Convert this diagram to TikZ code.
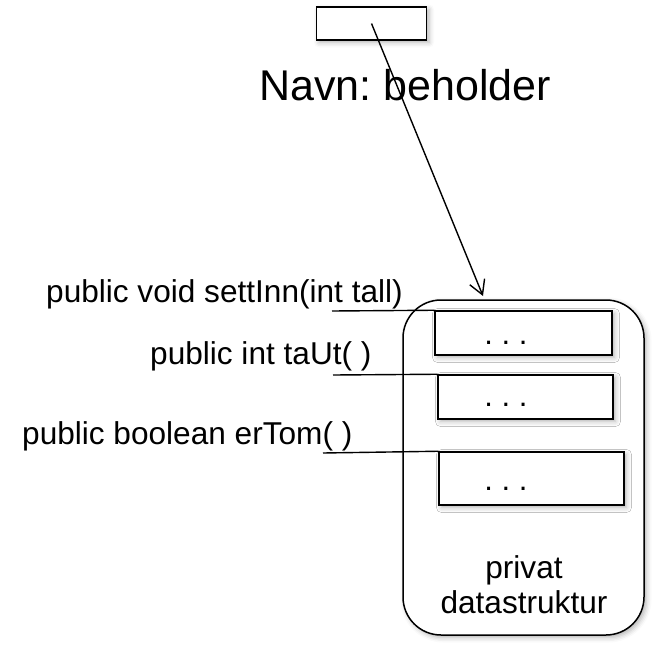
\documentclass[tikz,border=0pt]{standalone}
\usepackage{fontspec}
\setmainfont{Liberation Sans}
\frenchspacing
\usetikzlibrary{arrows.meta,shadows.blur}
\begin{document}
\begin{tikzpicture}[x=1pt,y=-1pt,
  box/.style={draw,line width=1.5pt,inner sep=0pt,fill=white,
    blur shadow={shadow xshift=2.5pt,shadow yshift=-2.5pt,shadow blur radius=5pt,shadow opacity=30}},
  lbl/.style={font=\fontsize{31.6}{36}\selectfont,inner sep=0pt,anchor=base west},
  dots/.style={font=\fontsize{31}{36}\selectfont,inner sep=0pt,anchor=base},
  wire/.style={line width=1.4pt}]
\useasboundingbox (0,0) rectangle (654,645);
% top variable box and its name
\node[box, minimum width=110pt, minimum height=33pt] (top) at (371.5,23.5) {};
\node[font=\fontsize{43}{50}\selectfont,inner sep=0pt,anchor=base west] (navn) at (259,100) {Navn: beholder};
% container
\node[box, rounded corners=38pt, minimum width=241pt, minimum height=335pt] (cont) at (523.5,467.5) {};
\node[box, minimum width=177pt, minimum height=44pt] (b1) at (523.5,333) {};
\node[box, minimum width=175pt, minimum height=44pt] (b2) at (525.5,397) {};
\node[box, minimum width=185pt, minimum height=53pt] (b3) at (531.5,478.5) {};
\node[dots] (d1) at (506,344) {.\ .\ .};
\node[dots] (d2) at (506,406) {.\ .\ .};
\node[dots] (d3) at (506,490) {.\ .\ .};
\node[font=\fontsize{31.6}{35}\selectfont,align=center,inner sep=0pt] (priv) at (524,585) {privat\\datastruktur};
% method labels
\node[lbl] (m1) at (46,302) {public void settInn(int tall)};
\node[lbl] (m2) at (150,364) {public int taUt( )};
\node[lbl] (m3) at (22,444) {public boolean erTom( )};
\coordinate (l1) at (332,311);
\coordinate (l2) at (333,375);
\coordinate (l3) at (323,453);
\draw[wire] (l1) -- (b1.north west);
\draw[wire] (l2) -- (b2.north west);
\draw[wire] (l3) -- (b3.north west);
% reference arrow
\coordinate (tip) at (483,296);
\draw[wire,-{Straight Barb[length=14pt,width=16pt,line width=1.4pt]}] (top.center) -- (tip);
\end{tikzpicture}
\end{document}
